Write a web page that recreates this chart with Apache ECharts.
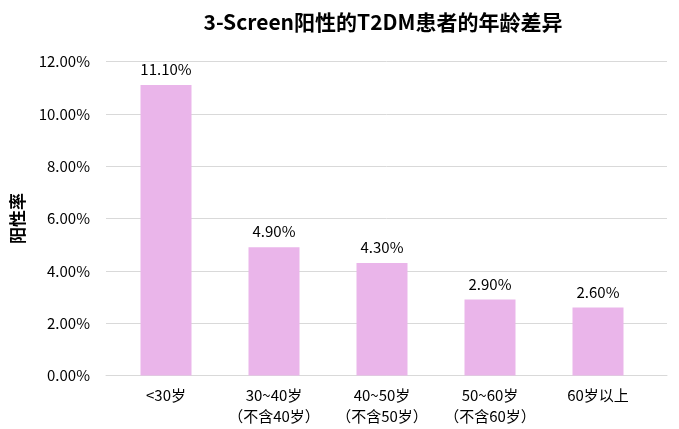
<!DOCTYPE html>
<html><head><meta charset="utf-8">
<script src="https://cdn.jsdelivr.net/npm/echarts@6/dist/echarts.min.js"></script>
<style>html,body{margin:0;padding:0;background:#fff}#c{width:679px;height:429px}</style>
</head><body><div id="c"></div>
<script>
const categories = ['<30岁', '30~40岁\n（不含40岁）', '40~50岁\n（不含50岁）', '50~60岁\n（不含60岁）', '60岁以上'];
const values = [11.1, 4.9, 4.3, 2.9, 2.6];
const yTicks = [0, 2, 4, 6, 8, 10, 12];
const titleText = '3-Screen阳性的T2DM患者的年龄差异';
const yName = '阳性率';

const font = '"Noto Sans CJK SC", "Noto Sans", sans-serif';
const chart = echarts.init(document.getElementById('c'));
chart.setOption({
  animation: false,
  backgroundColor: '#fff',
  title: {
    text: titleText, left: 378, textAlign: 'center', top: 7,
    textStyle: {fontFamily: font, fontSize: 21, fontWeight: 'bold', color: '#000'}
  },
  grid: [
    {left: 106, right: 12, top: 61.5, bottom: 53.5},
    {left: 112, right: 27, top: 61.5, bottom: 53.5}
  ],
  xAxis: [
    {gridIndex: 0, type: 'category', data: [''], axisLine: {lineStyle: {color: '#d9d9d9'}},
     axisTick: {show: false}, axisLabel: {show: false}},
    {gridIndex: 1, type: 'category', data: categories, axisLine: {show: false},
     axisTick: {show: false},
     axisLabel: {interval: 0, margin: 9, fontFamily: font, fontSize: 15, color: '#000', lineHeight: 21}}
  ],
  yAxis: [
    {gridIndex: 0, type: 'value', min: yTicks[0], max: yTicks[yTicks.length - 1], interval: 2,
     name: yName, nameLocation: 'middle', nameGap: 80, nameRotate: 90,
     nameTextStyle: {fontFamily: font, fontSize: 17, fontWeight: 'bold', color: '#000'},
     axisLine: {show: false}, axisTick: {show: false},
     splitLine: {lineStyle: {color: '#d9d9d9'}},
     axisLabel: {margin: 16, fontFamily: font, fontSize: 15, color: '#000',
       formatter: v => v.toFixed(2) + '%'}},
    {gridIndex: 1, type: 'value', min: yTicks[0], max: yTicks[yTicks.length - 1], interval: 2,
     show: false}
  ],
  series: [{
    type: 'bar', xAxisIndex: 1, yAxisIndex: 1, data: values, barWidth: 51,
    itemStyle: {color: '#EAB5EA'},
    label: {show: true, position: 'top', distance: 8, fontFamily: font, fontSize: 15, color: '#000',
      formatter: p => p.value.toFixed(2) + '%'}
  }]
});
</script></body></html>
